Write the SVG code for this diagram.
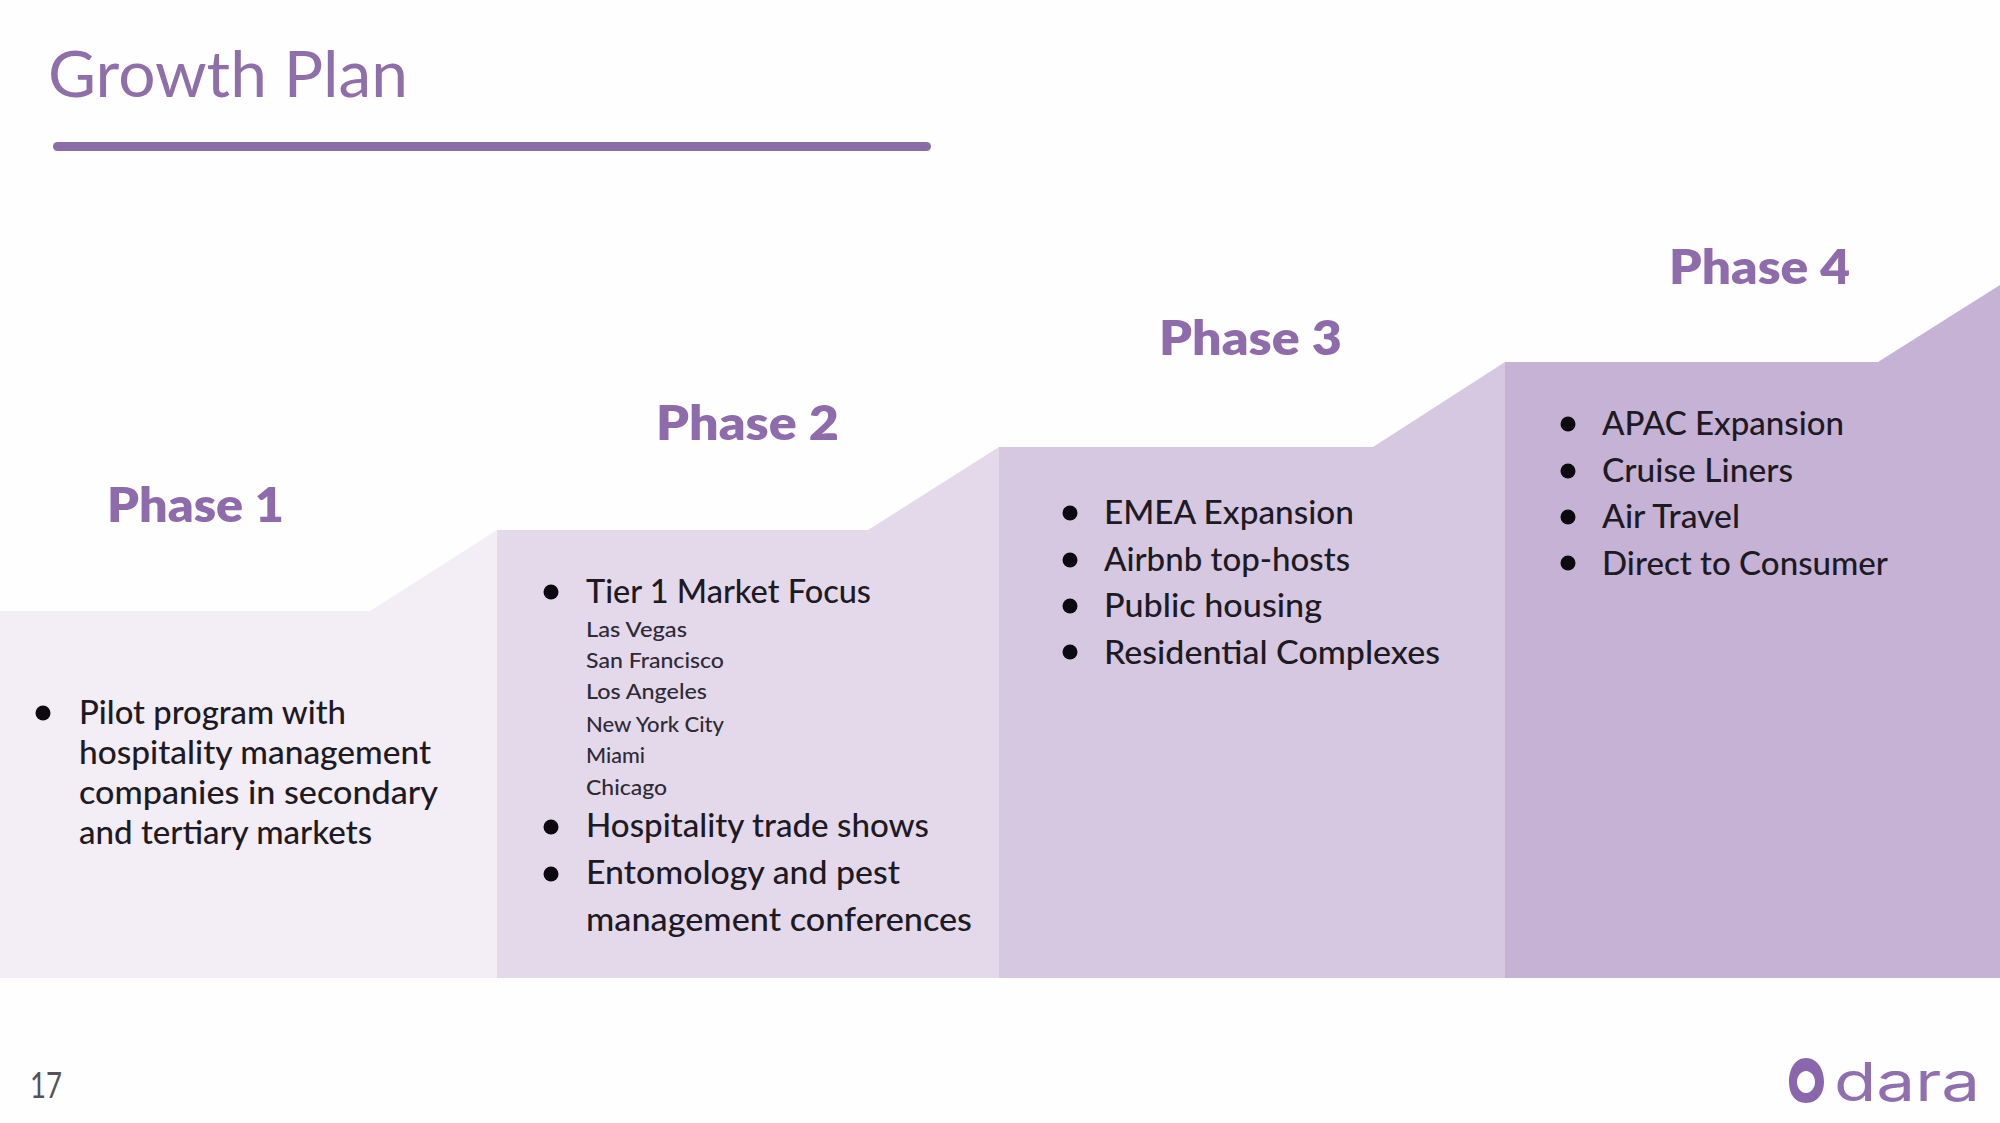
<svg xmlns="http://www.w3.org/2000/svg" width="2000" height="1123" viewBox="0 0 2000 1123">
<style>
text{font-family:"Lato","Noto Sans",sans-serif}
.t{font-size:33px;fill:#1d1a24;font-weight:500}
.s{font-size:22px;fill:#2e2a36;font-weight:500}
.p{font-size:48px;font-weight:800;fill:#8e6bab}
.b{fill:#0c0a10}
</style>
<rect width="2000" height="1123" fill="#fefefe"/>
<g id="title"><text x="48" y="97" font-size="64" fill="#8e6fa9" textLength="360" lengthAdjust="spacingAndGlyphs">Growth Plan</text><rect x="53" y="142" width="878" height="9" rx="4.500" fill="#8a6ca6"/></g>
<g id="phase1"><path d="M0 611H370L497 530V978H0Z" fill="#f3edf5"/><text class="p" x="107" y="522" textLength="177" lengthAdjust="spacingAndGlyphs">Phase 1</text>
<circle class="b" cx="43" cy="713" r="7.500"/>
<text class="t" x="79" y="724" textLength="267" lengthAdjust="spacingAndGlyphs">Pilot program with</text>
<text class="t" x="79" y="764" textLength="352" lengthAdjust="spacingAndGlyphs">hospitality management</text>
<text class="t" x="79" y="804" textLength="359" lengthAdjust="spacingAndGlyphs">companies in secondary</text>
<text class="t" x="79" y="844" textLength="293" lengthAdjust="spacingAndGlyphs">and tertiary markets</text></g>
<g id="phase2"><path d="M497 530H868L999 447V978H497Z" fill="#e4d9ea"/><text class="p" x="656" y="440" textLength="183" lengthAdjust="spacingAndGlyphs">Phase 2</text>
<circle class="b" cx="551" cy="592" r="7.500"/><circle class="b" cx="551" cy="827" r="7.500"/><circle class="b" cx="551" cy="874" r="7.500"/>
<text class="t" x="586" y="603" textLength="285" lengthAdjust="spacingAndGlyphs">Tier 1 Market Focus</text>
<text class="s" x="586" y="637" textLength="101" lengthAdjust="spacingAndGlyphs">Las Vegas</text>
<text class="s" x="586" y="668" textLength="138" lengthAdjust="spacingAndGlyphs">San Francisco</text>
<text class="s" x="586" y="699" textLength="121" lengthAdjust="spacingAndGlyphs">Los Angeles</text>
<text class="s" x="586" y="732" textLength="138" lengthAdjust="spacingAndGlyphs">New York City</text>
<text class="s" x="586" y="763" textLength="59" lengthAdjust="spacingAndGlyphs">Miami</text>
<text class="s" x="586" y="795" textLength="81" lengthAdjust="spacingAndGlyphs">Chicago</text>
<text class="t" x="586" y="837" textLength="343" lengthAdjust="spacingAndGlyphs">Hospitality trade shows</text>
<text class="t" x="586" y="884" textLength="314" lengthAdjust="spacingAndGlyphs">Entomology and pest</text>
<text class="t" x="586" y="931" textLength="386" lengthAdjust="spacingAndGlyphs">management conferences</text></g>
<g id="phase3"><path d="M999 447H1373L1505 362V978H999Z" fill="#d6c8e0"/><text class="p" x="1159" y="355" textLength="183" lengthAdjust="spacingAndGlyphs">Phase 3</text>
<circle class="b" cx="1070" cy="513" r="7.500"/><circle class="b" cx="1070" cy="560" r="7.500"/><circle class="b" cx="1070" cy="606" r="7.500"/><circle class="b" cx="1070" cy="652" r="7.500"/>
<text class="t" x="1104" y="524" textLength="250" lengthAdjust="spacingAndGlyphs">EMEA Expansion</text>
<text class="t" x="1104" y="571" textLength="246" lengthAdjust="spacingAndGlyphs">Airbnb top-hosts</text>
<text class="t" x="1104" y="617" textLength="218" lengthAdjust="spacingAndGlyphs">Public housing</text>
<text class="t" x="1104" y="664" textLength="336" lengthAdjust="spacingAndGlyphs">Residential Complexes</text></g>
<g id="phase4"><path d="M1505 362H1878L2000 285V978H1505Z" fill="#c5b2d5"/><text class="p" x="1669" y="284" textLength="181" lengthAdjust="spacingAndGlyphs">Phase 4</text>
<circle class="b" cx="1568" cy="424" r="7.500"/><circle class="b" cx="1568" cy="471" r="7.500"/><circle class="b" cx="1568" cy="517" r="7.500"/><circle class="b" cx="1568" cy="563" r="7.500"/>
<text class="t" x="1602" y="435" textLength="242" lengthAdjust="spacingAndGlyphs">APAC Expansion</text>
<text class="t" x="1602" y="482" textLength="191" lengthAdjust="spacingAndGlyphs">Cruise Liners</text>
<text class="t" x="1602" y="528" textLength="138" lengthAdjust="spacingAndGlyphs">Air Travel</text>
<text class="t" x="1602" y="575" textLength="286" lengthAdjust="spacingAndGlyphs">Direct to Consumer</text></g>
<g id="footer"><text x="30" y="1098" font-size="36" fill="#55525a" textLength="32" lengthAdjust="spacingAndGlyphs">17</text>
<path fill-rule="evenodd" d="M1806 1058C1795 1058 1789 1069 1789 1082C1789 1094 1795 1103 1806 1103C1817 1103 1824 1094 1824 1082C1824 1069 1817 1058 1806 1058ZM1806 1071C1811 1071 1815 1076 1815 1082C1815 1088 1811 1093 1806 1093C1801 1093 1797 1088 1797 1082C1797 1076 1801 1071 1806 1071Z" fill="#8a66ac"/>
<text x="1834" y="1101" font-size="54" fill="#8f6fae" style="font-family:Inter,'Noto Sans',sans-serif" textLength="146" lengthAdjust="spacingAndGlyphs">dara</text></g>
</svg>
